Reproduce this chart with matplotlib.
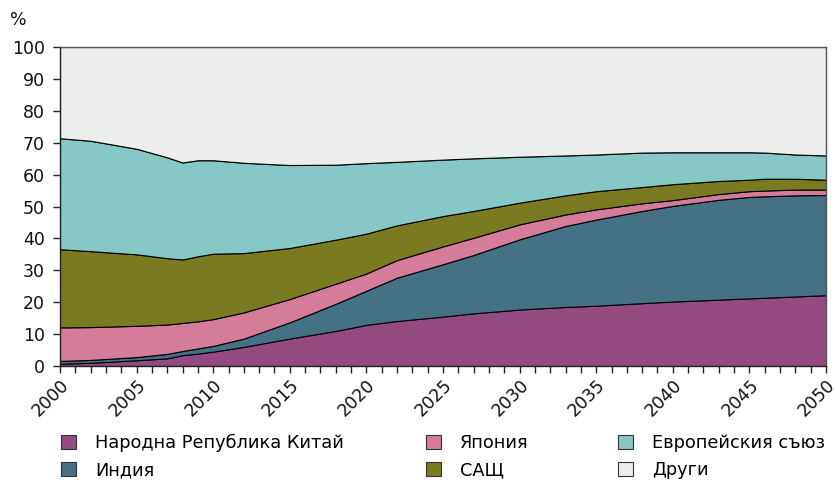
import matplotlib
matplotlib.use("Agg")
import matplotlib.pyplot as plt
from matplotlib.patches import Patch
from matplotlib.ticker import MultipleLocator

years = [2000, 2002, 2005, 2007, 2008, 2009, 2010, 2012, 2015, 2018, 2020, 2022,
         2025, 2027, 2030, 2033, 2035, 2038, 2040, 2043, 2045, 2046, 2048, 2050]

# дялове в %
china = [0.7, 1.0, 1.8, 2.4, 3.4, 3.9, 4.5, 6.0, 8.6, 11.0, 12.9, 14.1,
         15.5, 16.5, 17.7, 18.5, 18.9, 19.7, 20.2, 20.8, 21.2, 21.4, 21.8, 22.2]
india = [0.9, 0.9, 1.0, 1.4, 1.3, 1.6, 1.8, 2.6, 5.1, 8.5, 10.7, 13.6,
         16.4, 18.3, 22.0, 25.4, 27.0, 28.9, 30.0, 31.3, 31.8, 31.8, 31.7, 31.4]
japan = [10.5, 10.3, 9.8, 9.2, 8.8, 8.5, 8.4, 8.2, 7.3, 6.3, 5.4, 5.5,
         5.6, 5.4, 4.7, 3.6, 3.2, 2.4, 1.8, 1.8, 1.8, 1.8, 1.8, 1.7]
usa = [24.5, 23.8, 22.4, 20.8, 19.9, 20.4, 20.5, 18.6, 16.0, 13.8, 12.5, 10.9,
       9.5, 8.4, 6.8, 6.0, 5.7, 5.1, 5.0, 4.1, 3.6, 3.7, 3.4, 3.1]
eu = [34.8, 34.6, 33.1, 31.6, 30.4, 30.1, 29.3, 28.3, 26.0, 23.5, 22.1, 19.9,
      17.7, 16.5, 14.4, 12.5, 11.5, 10.8, 10.0, 9.0, 8.6, 8.2, 7.6, 7.6]
others = [28.6, 29.4, 31.9, 34.6, 36.2, 35.5, 35.5, 36.3, 37.0, 36.9, 36.4, 36.0,
          35.3, 34.9, 34.4, 34.0, 33.7, 33.1, 33.0, 33.0, 33.0, 33.1, 33.7, 34.0]

labels = ['Народна Република Китай', 'Индия', 'Япония', 'САЩ',
          'Европейския съюз', 'Други']
colors = ['#944b80', '#447284', '#d67c9b', '#7a7a20', '#85c8c5', '#eceeed']

plt.rcParams['font.family'] = ['DejaVu Sans']

fig = plt.figure(figsize=(8.36, 4.82), dpi=100)
ax = fig.add_axes([60 / 836, 1 - 366 / 482, 766 / 836, 319 / 482])

ax.stackplot(years, china, india, japan, usa, eu, others, colors=colors,
             edgecolor='black', linewidth=0.8)

ax.set_xlim(2000, 2050)
ax.set_ylim(0, 100)
ax.xaxis.set_major_locator(MultipleLocator(5))
ax.xaxis.set_minor_locator(MultipleLocator(1))
ax.yaxis.set_major_locator(MultipleLocator(10))
ax.tick_params(axis='both', which='both', direction='out', length=5,
               width=1, color='#222222', labelsize=12.5, labelcolor='#111111')
ax.tick_params(axis='y', pad=6)
ax.tick_params(axis='x', pad=2)
for lab in ax.get_xticklabels():
    lab.set_rotation(45)
    lab.set_ha('right')
    lab.set_va('top')
    lab.set_rotation_mode('anchor')

for side in ['top', 'right']:
    ax.spines[side].set_color('#555555')
    ax.spines[side].set_linewidth(1)
for side in ['left', 'bottom']:
    ax.spines[side].set_color('#222222')
    ax.spines[side].set_linewidth(1)

fig.text(10 / 836, 1 - 20 / 482, '%', fontsize=12.5, color='#111111',
         ha='left', va='center')

# легенда в три колони
handles = [Patch(facecolor=c, edgecolor='#333333', linewidth=0.8) for c in colors]
col_x = [61, 426, 618]
for i, x in enumerate(col_x):
    fig.legend(handles[2 * i:2 * i + 2], labels[2 * i:2 * i + 2], loc='upper left',
               bbox_to_anchor=(x / 836, 1 - 434 / 482), frameon=False,
               fontsize=12.8, handlelength=0.85, handleheight=0.85,
               handletextpad=1.05, labelspacing=0.52,
               borderpad=0, borderaxespad=0)

fig.savefig('out.png', dpi=100)
